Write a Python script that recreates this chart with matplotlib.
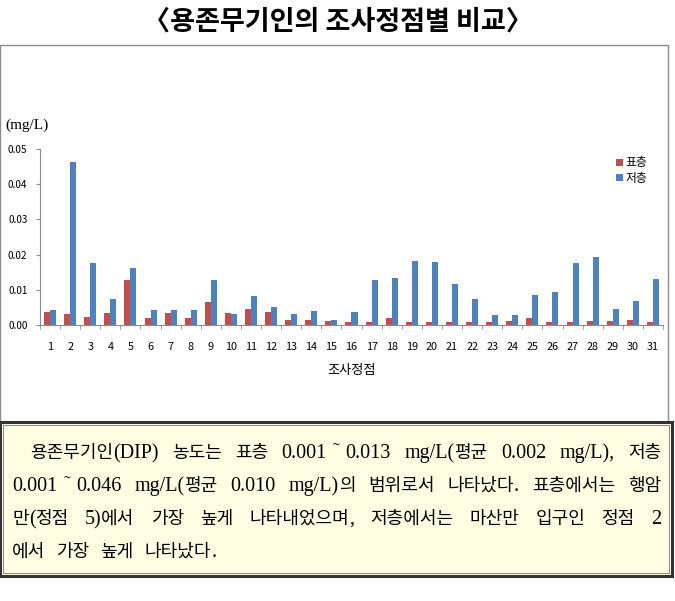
import matplotlib
matplotlib.use('Agg')
import matplotlib.pyplot as plt
from matplotlib.patches import Rectangle
import numpy as np

# station numbers and DIP concentrations (mg/L)
stations = [str(i) for i in range(1, 32)]
surface = [0.0038, 0.0030, 0.0022, 0.0033, 0.0129, 0.0019, 0.0034, 0.0020,
           0.0066, 0.0034, 0.0045, 0.0038, 0.0013, 0.0013, 0.0010, 0.0009,
           0.0009, 0.0019, 0.0009, 0.0009, 0.0009, 0.0009, 0.0009, 0.0011,
           0.0019, 0.0009, 0.0009, 0.0011, 0.0011, 0.0014, 0.0009]
bottom = [0.0043, 0.0464, 0.0177, 0.0073, 0.0162, 0.0042, 0.0042, 0.0044,
          0.0127, 0.0031, 0.0083, 0.0051, 0.0030, 0.0041, 0.0013, 0.0038,
          0.0129, 0.0134, 0.0183, 0.0179, 0.0116, 0.0073, 0.0027, 0.0027,
          0.0086, 0.0094, 0.0177, 0.0193, 0.0045, 0.0067, 0.0132]
series_names = ['표층', '저층']
yticks = [0.00, 0.01, 0.02, 0.03, 0.04, 0.05]

title = '〈용존무기인의 조사정점별 비교〉'
unit_label = '(mg/L)'
xlabel = '조사정점'
para_lines = [
    '용존무기인(DIP) 농도는 표층 0.001˜0.013 mg/L(평균 0.002 mg/L), 저층',
    '0.001˜0.046 mg/L(평균 0.010 mg/L)의 범위로서 나타났다. 표층에서는 행암',
    '만(정점 5)에서 가장 높게 나타내었으며, 저층에서는 마산만 입구인 정점 2',
    '에서 가장 높게 나타났다.',
]

W, H = 675, 601
fig = plt.figure(figsize=(W / 100, H / 100), dpi=100)
kr = ['Noto Sans CJK KR', 'DejaVu Sans']
serif = ['Liberation Serif', 'Noto Sans CJK KR']

# title
fig.text(0.5, 1 - 22 / H, title, ha='center', va='center', fontsize=19.5,
         fontweight='bold', family=kr)

# chart frame
fig.patches.append(Rectangle((0 / W, 1 - 422 / H), 668 / W, (422 - 45) / H,
                             transform=fig.transFigure, fill=False,
                             edgecolor='#8c8c8c', linewidth=1.0))

ax = fig.add_axes([40 / W, 1 - 325 / H, (663 - 40) / W, (325 - 149) / H])
x = np.arange(1, len(stations) + 1)
bw = 0.3
ax.bar(x - bw / 2, surface, bw, color='#C0504D', label=series_names[0])
ax.bar(x + bw / 2, bottom, bw, color='#4F81BD', label=series_names[1])
ax.set_xlim(0.5, len(stations) + 0.5)
ax.set_ylim(0, 0.05)
ax.set_yticks(yticks)
ax.set_yticklabels([f'{v:.2f}' for v in yticks], fontsize=7.2, family=kr)
ax.set_xticks(x)
ax.set_xticklabels(stations, fontsize=7.8, family=kr)
ax.tick_params(axis='x', length=0, pad=12)
ax.set_xticks(np.arange(0.5, len(stations) + 1, 1), minor=True)
ax.tick_params(axis='x', which='minor', length=3, color='#8c8c8c',
               direction='out')
ax.tick_params(axis='y', length=3, color='#8c8c8c', direction='out', pad=6)
for s in ['top', 'right']:
    ax.spines[s].set_visible(False)
for s in ['left', 'bottom']:
    ax.spines[s].set_color('#8c8c8c')
ax.set_xlabel(xlabel, fontsize=9.5, family=kr, labelpad=9)
ax.text(-35 / 623, 1.136, unit_label, transform=ax.transAxes, fontsize=11,
        family=serif, va='center')
ax.legend(loc='upper right', bbox_to_anchor=(0.982, 0.985), borderaxespad=0,
          frameon=False, prop={'family': kr, 'size': 8.5}, handlelength=0.55,
          handleheight=0.55, handletextpad=0.2, labelspacing=0.2)

# paragraph box
box_top, box_bot = 422, 576
fig.patches.append(Rectangle((0, 1 - box_bot / H), 672 / W,
                             (box_bot - box_top) / H,
                             transform=fig.transFigure, facecolor='#FFFFE3',
                             edgecolor='#333333', linewidth=2.2))
fig.patches.append(Rectangle((3 / W, 1 - (box_bot - 3) / H), 666 / W,
                             (box_bot - box_top - 6) / H,
                             transform=fig.transFigure, fill=False,
                             edgecolor='#777777', linewidth=0.6))


def split_runs(word):
    # hangul in the gothic face, everything else in the serif face,
    # tilde kept apart so it gets a little room on both sides
    runs = []
    for ch in word:
        if ch == '˜':
            kind = 'tilde'
        elif '\uac00' <= ch <= '\ud7a3':
            kind = 'kr'
        else:
            kind = 'serif'
        if runs and runs[-1][0] == kind and kind != 'tilde':
            runs[-1][1] += ch
        else:
            runs.append([kind, ch])
    return runs


renderer = fig.canvas.get_renderer()
line_y = [458, 491, 524, 557]
left = [30, 12, 12, 12]
right = 661
for i, line in enumerate(para_lines):
    yf = 1 - line_y[i] / H
    words = []
    for w in line.split(' '):
        items = []
        for kind, s in split_runs(w):
            if kind == 'kr':
                t = fig.text(0, yf, s, fontsize=13, family=kr,
                             va='baseline')
                pad = 0
            else:
                t = fig.text(0, yf, s, fontsize=14.5, family=serif,
                             va='baseline')
                pad = 12 if kind == 'tilde' else 0
            items.append((t, t.get_window_extent(renderer).width, pad))
        words.append(items)
    widths = [sum(wd + pad for _, wd, pad in items) for items in words]
    if i < len(para_lines) - 1:
        gap = (right - left[i] - sum(widths)) / (len(words) - 1)
    else:
        gap = 11
    xpos = left[i]
    for items in words:
        for t, wd, pad in items:
            t.set_x((xpos + pad / 2) / W)
            xpos += wd + pad
        xpos += gap

fig.savefig('out.png', dpi=100)
